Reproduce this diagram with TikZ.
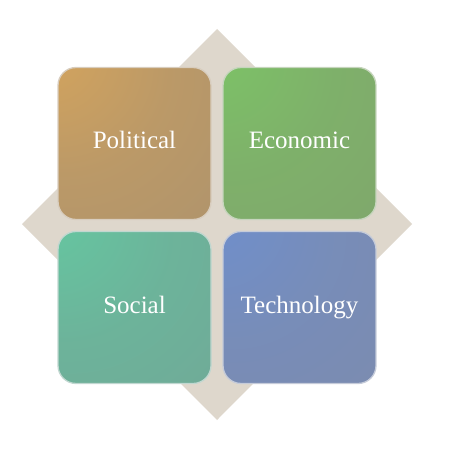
\documentclass[tikz,border=0pt]{standalone}
\usepackage{fontspec}
\setmainfont{Liberation Serif}
\definecolor{backdrop}{HTML}{DED7CC}
\pgfdeclareradialshading[boxin,boxout]{boxglow}{\pgfpoint{-32bp}{34bp}}{%
  color(0bp)=(boxin); color(35bp)=(boxin!40!boxout); color(80bp)=(boxout); color(130bp)=(boxout!92!black)}
\tikzset{
  quad/.style 2 args={/utils/exec={\colorlet{boxin}{#1}\colorlet{boxout}{#2}},
    shading=boxglow, draw=white!55!#2, line width=1.3pt,
    minimum width=153pt, minimum height=152pt, rounded corners=18pt,
    text height=17pt, text depth=6pt,
    text=white, font=\fontsize{25}{30}\selectfont},
}
\definecolor{politicalin}{HTML}{D6A55C}
\definecolor{politicalout}{HTML}{A9916F}
\definecolor{economicin}{HTML}{7CC566}
\definecolor{economicout}{HTML}{80A26D}
\definecolor{socialin}{HTML}{64C9A1}
\definecolor{socialout}{HTML}{72A596}
\definecolor{technologyin}{HTML}{6E8FCE}
\definecolor{technologyout}{HTML}{7E8BAA}
\begin{document}
\begin{tikzpicture}[x=1pt, y=-1pt]
\useasboundingbox (0, 0) rectangle (450, 470);
\fill[backdrop] (217, 29) -- (412, 224) -- (217, 420) -- (22, 224) -- cycle;

\node[quad={politicalin}{politicalout}] (political) at (134.5, 143.5) {Political};
\node[quad={economicin}{economicout}] (economic) at (299.5, 143.5) {Economic};
\node[quad={socialin}{socialout}] (social) at (134.5, 307.5) {Social};
\node[quad={technologyin}{technologyout}] (technology) at (299.5, 307.5) {Technology};

\end{tikzpicture}
\end{document}
